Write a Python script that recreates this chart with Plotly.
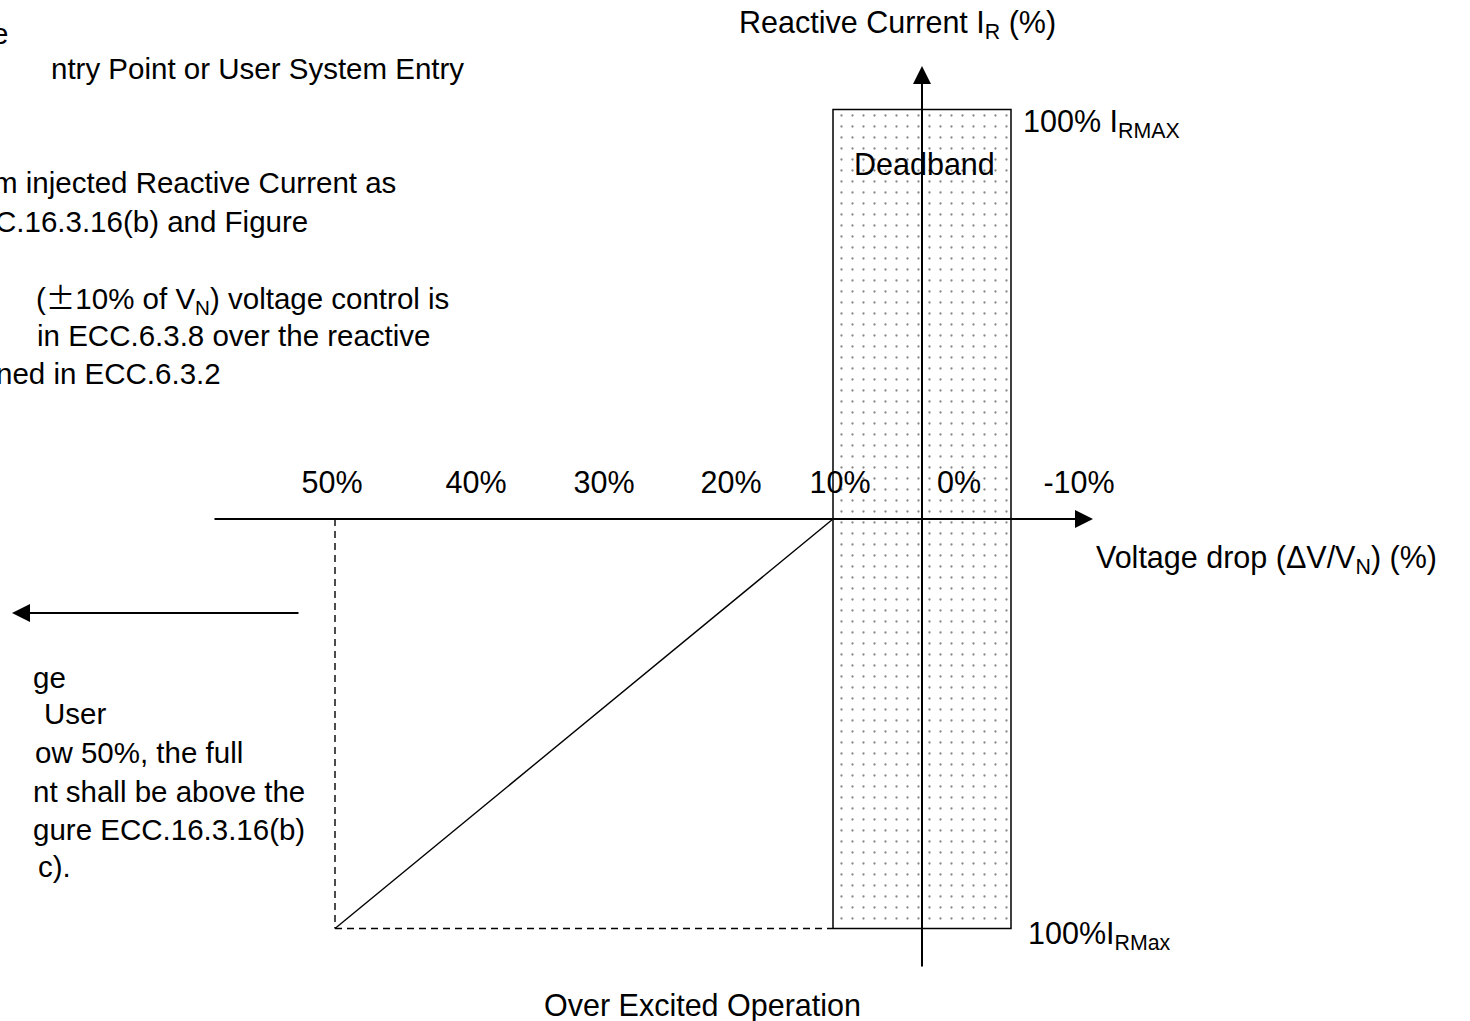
import numpy as np
import plotly.graph_objects as go

# ---------------- data ----------------
voltage_drop_ticks = ["50%", "40%", "30%", "20%", "10%", "0%", "-10%"]
deadband_voltage = [10, -10]        # deadband limits, % voltage drop
reactive_limits = [100, -100]       # % of I_RMAX
response_voltage = [10, 50]         # % voltage drop along the response line
response_current = [0, -100]        # % reactive current along the response line

# ---------------- layout constants ----------------
W, H = 1470, 1021
FONT = "Liberation Sans, Arial, Helvetica, sans-serif"
FS = 30.5
FS_LEFT = 29.5
BLACK = "#000000"

# schematic (piecewise) scale for the voltage-drop axis: % -> px
scale_pct = [50, 10, -10]
scale_px = [335, 833, 1011]
# linear scale for reactive current: px of 0 % and px per %
Y0_PX = 519
Y_PX_PER_PCT = 4.095

tick_label_px = [332, 476, 604, 731, 840, 959, 1079]
tick_label_y_px = 485


def vx(p):
    p = np.atleast_1d(np.asarray(p, dtype=float))
    xp = np.array(scale_pct[::-1], dtype=float)
    fp = np.array(scale_px[::-1], dtype=float)
    out = np.interp(p, xp, fp)
    s0 = (fp[1] - fp[0]) / (xp[1] - xp[0])
    s1 = (fp[-1] - fp[-2]) / (xp[-1] - xp[-2])
    lo, hi = p < xp[0], p > xp[-1]
    out[lo] = fp[0] + (p[lo] - xp[0]) * s0
    out[hi] = fp[-1] + (p[hi] - xp[-1]) * s1
    return out


def py_to_pct(py):
    return (Y0_PX - py) / Y_PX_PER_PCT


def px(xp):
    return xp / W


def py(yp):
    return 1 - yp / H


fig = go.Figure()

# deadband box (dotted)
bx = vx([deadband_voltage[0], deadband_voltage[1], deadband_voltage[1], deadband_voltage[0], deadband_voltage[0]])
by = [reactive_limits[1], reactive_limits[1], reactive_limits[0], reactive_limits[0], reactive_limits[1]]
fig.add_trace(go.Scatter(
    x=bx, y=by, mode="lines", fill="toself",
    fillcolor="white",
    fillpattern=dict(shape=".", size=11, solidity=0.035, fgcolor="#111111", bgcolor="white", fillmode="overlay"),
    line=dict(color=BLACK, width=1.5), hoverinfo="skip"))

# dashed projections of the 50 % point
v50 = response_voltage[1]
i_full = response_current[1]
dx = list(vx([v50, v50])) + [None] + list(vx([v50, deadband_voltage[0]]))
dy = [response_current[0], i_full, None, i_full, i_full]
fig.add_trace(go.Scatter(x=dx, y=dy, mode="lines",
                         line=dict(color=BLACK, width=1.4, dash="7px,5px"), hoverinfo="skip"))

# response line
fig.add_trace(go.Scatter(x=vx(response_voltage), y=response_current, mode="lines",
                         line=dict(color=BLACK, width=1.4), hoverinfo="skip"))

# tick labels of the voltage-drop axis
fig.add_trace(go.Scatter(x=tick_label_px, y=[py_to_pct(tick_label_y_px)] * len(voltage_drop_ticks),
                         mode="text", text=voltage_drop_ticks, textposition="middle center",
                         textfont=dict(family=FONT, size=FS, color=BLACK), hoverinfo="skip"))

annotations = []

# axes with arrowheads
x0 = float(vx([0])[0])
ARROW = dict(text="", showarrow=True, arrowhead=2, arrowsize=1.8, arrowwidth=2,
             arrowcolor=BLACK, standoff=0, xref="x", yref="y", axref="x", ayref="y")
annotations.append(dict(x=1093, y=0, ax=213, ay=0, **ARROW))
annotations.append(dict(x=x0, y=py_to_pct(66), ax=x0, ay=py_to_pct(968), **ARROW))
# left arrow
annotations.append(dict(x=12, y=py_to_pct(613), ax=300, ay=py_to_pct(613), **ARROW))


def label(text, left, cy, anchor="left", size=FS):
    annotations.append(dict(x=px(left), y=py(cy), xref="paper", yref="paper", text=text,
                            showarrow=False, xanchor=anchor, yanchor="middle", borderpad=0,
                            font=dict(family=FONT, size=size, color=BLACK), align="left"))


PM = '<span style="font-family:\'Noto Sans CJK SC\'">±</span>'

# cut-off explanatory text (upper left)
label("e", -9, 33, size=FS_LEFT)
label("ntry Point or User System Entry", 50, 68, size=FS_LEFT)
label("m injected Reactive Current as", -8, 183, size=FS_LEFT)
label("C.16.3.16(b) and Figure", -6, 221, size=FS_LEFT)
label("(" + PM + "10% of V<sub>N</sub>) voltage control is", 35, 297, size=FS_LEFT)
label("in ECC.6.3.8 over the reactive", 36, 335, size=FS_LEFT)
label("ned in ECC.6.3.2", -5, 373, size=FS_LEFT)

# cut-off explanatory text (lower left)
label("ge", 32, 677, size=FS_LEFT)
label("User", 43, 713, size=FS_LEFT)
label("ow 50%, the full", 34, 752, size=FS_LEFT)
label("nt shall be above the", 32, 791, size=FS_LEFT)
label("gure ECC.16.3.16(b)", 32, 829, size=FS_LEFT)
label("c).", 37, 866, size=FS_LEFT)

# chart labels
label("Reactive Current I<sub>R</sub> (%)", 738, 24)
label("100% I<sub>RMAX</sub>", 1022, 124)
label("100%I<sub>RMax</sub>", 1027, 935)
label("Deadband", 853, 164)
label("Voltage drop (ΔV/V<sub>N</sub>) (%)", 1095, 559)
label("Over Excited Operation", 702, 1005, anchor="center")

fig.update_layout(
    width=W, height=H, autosize=False,
    margin=dict(l=0, r=0, t=0, b=0, pad=0),
    paper_bgcolor="white", plot_bgcolor="white",
    showlegend=False, hovermode=False,
    xaxis=dict(range=[0, W], visible=False, fixedrange=True),
    yaxis=dict(range=[py_to_pct(H), py_to_pct(0)], visible=False, fixedrange=True),
    annotations=annotations,
    font=dict(family=FONT, size=FS, color=BLACK),
)

fig.write_html("out.html", config={"displayModeBar": False},
               post_script="document.body.style.margin='0px';document.body.style.overflow='hidden';")
